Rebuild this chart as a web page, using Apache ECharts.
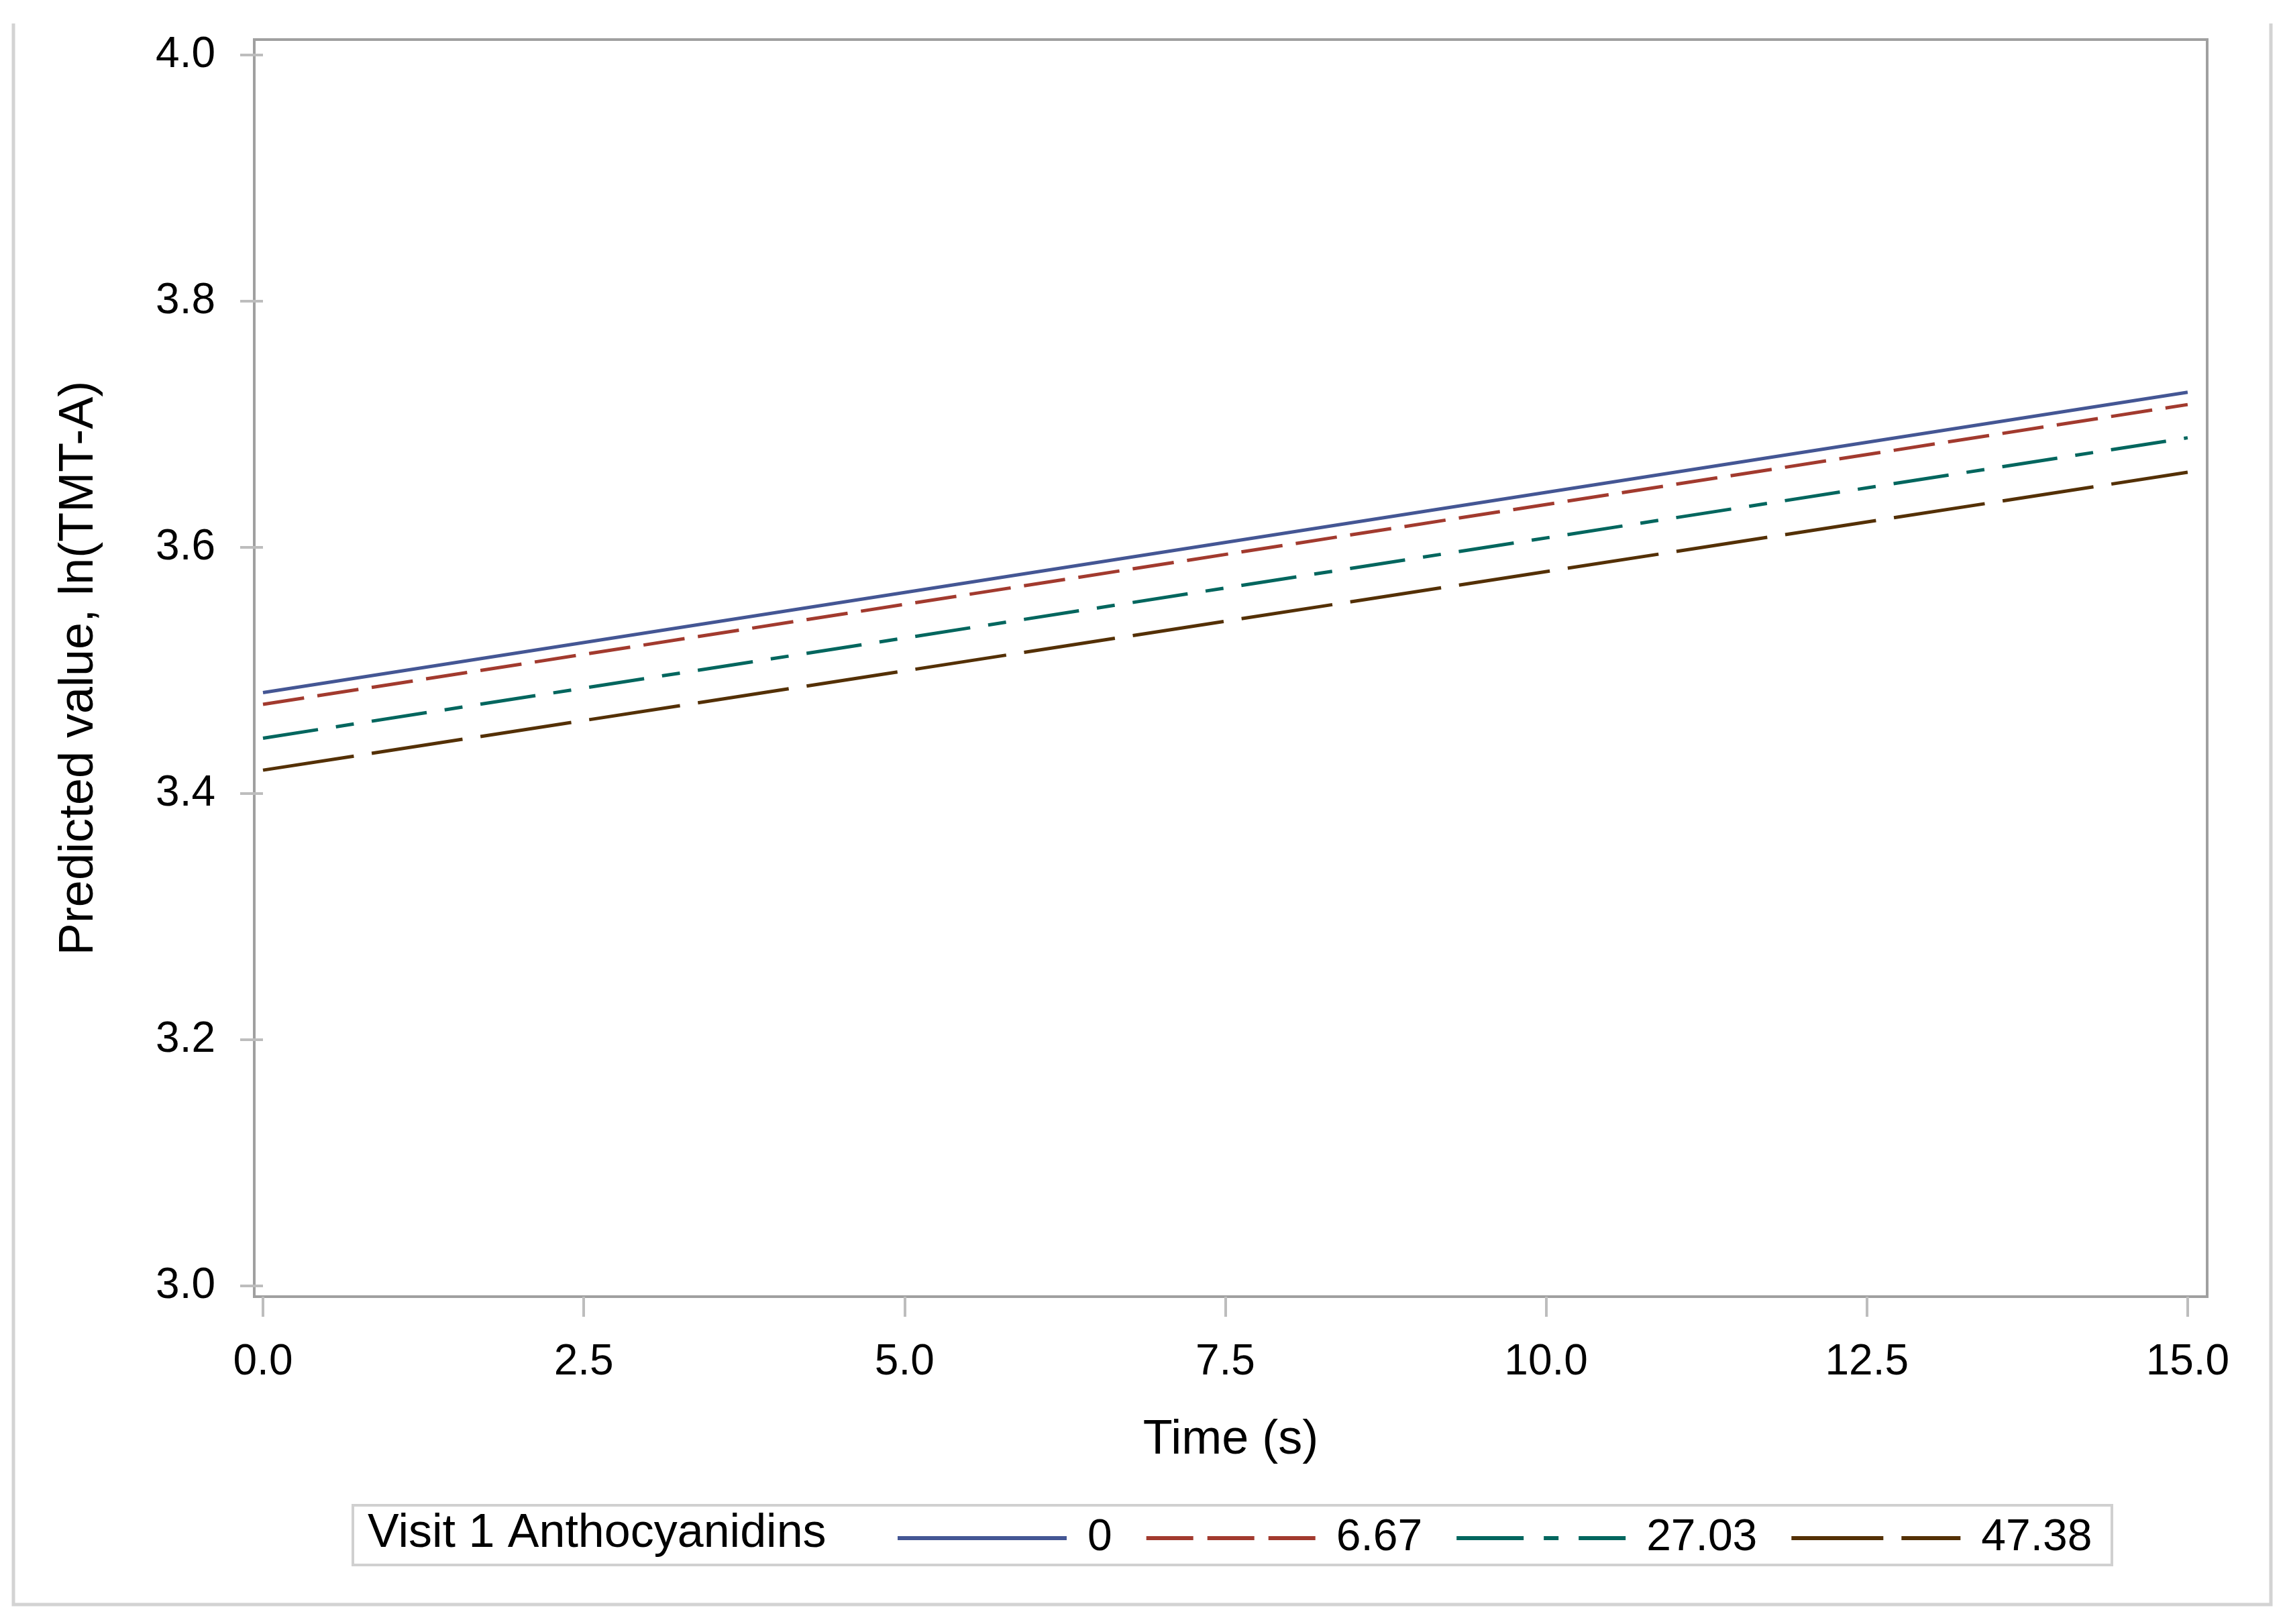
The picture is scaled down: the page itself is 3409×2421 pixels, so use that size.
<!DOCTYPE html>
<html>
<head>
<meta charset="utf-8">
<script src="https://cdn.jsdelivr.net/npm/echarts@6/dist/echarts.min.js"></script>
<style>
html,body{margin:0;padding:0;background:#fff;}
#chart{width:3409px;height:2421px;}
</style>
</head>
<body>
<div id="chart"></div>
<script>
// ---- data ----
const timeValues = [0, 15];
const seriesNames = ['0', '6.67', '27.03', '47.38'];
const values0 = [3.482, 3.726];
const values667 = [3.4725, 3.716];
const values2703 = [3.445, 3.689];
const values4738 = [3.419, 3.661];
const xTickValues = [0, 2.5, 5, 7.5, 10, 12.5, 15];
const yTickValues = [3.0, 3.2, 3.4, 3.6, 3.8, 4.0];
const legendTitle = 'Visit 1 Anthocyanidins';
const xTitle = 'Time (s)';
const yTitle = 'Predicted value, ln(TMT-A)';

const FONT = "'Liberation Sans', Arial, sans-serif";
const colors = ['#445694', '#A23A2E', '#01665E', '#543005'];
const dashes = ['solid', [62, 20], [83, 27, 27, 27], [137, 27]];
const legendDashes = ['solid', [70, 21], [100, 30, 22, 30], [137, 27]];
const allValues = [values0, values667, values2703, values4738];

const series = allValues.map((vals, i) => ({
  name: seriesNames[i],
  type: 'line',
  symbol: 'none',
  showSymbol: false,
  silent: true,
  animation: false,
  data: timeValues.map((t, j) => [t, vals[j]]),
  lineStyle: { color: colors[i], width: 5, type: dashes[i] },
  itemStyle: { color: colors[i] }
}));

const chart = echarts.init(document.getElementById('chart'), null, { renderer: 'canvas' });
chart.setOption({
  backgroundColor: '#ffffff',
  animation: false,
  grid: {
    left: 379, top: 59, right: 119, bottom: 488,
    show: true, borderColor: '#a0a0a0', borderWidth: 4, backgroundColor: 'transparent'
  },
  xAxis: {
    type: 'value',
    min: -0.068, max: 15.152,
    name: xTitle,
    nameLocation: 'middle',
    nameGap: 178,
    nameTextStyle: { fontFamily: FONT, fontSize: 72, color: '#000' },
    axisLine: { show: false },
    splitLine: { show: false },
    axisTick: { show: true, inside: false, length: 30, customValues: xTickValues,
      lineStyle: { color: '#bdbdbd', width: 4 } },
    axisLabel: { show: true, customValues: xTickValues, margin: 66,
      fontFamily: FONT, fontSize: 64, color: '#000',
      formatter: v => Number(v).toFixed(1) }
  },
  yAxis: {
    type: 'value',
    min: 2.9913, max: 4.0125,
    name: yTitle,
    nameLocation: 'middle',
    nameRotate: 90,
    nameGap: 225,
    nameTextStyle: { fontFamily: FONT, fontSize: 72, color: '#000' },
    axisLine: { show: false },
    splitLine: { show: false },
    axisTick: { show: true, inside: false, length: 34, customValues: yTickValues,
      lineStyle: { color: '#bdbdbd', width: 4 } },
    axisLabel: { show: true, customValues: yTickValues, margin: 58,
      fontFamily: FONT, fontSize: 64, color: '#000',
      formatter: v => Number(v).toFixed(1) }
  },
  legend: {
    show: true,
    left: 1335,
    top: 2253,
    orient: 'horizontal',
    padding: 0,
    itemWidth: 252,
    itemHeight: 20,
    itemGap: 48,
    selectedMode: false,
    data: seriesNames.map((n, i) => ({ name: n, lineStyle: { width: 6, type: legendDashes[i] } })),
    itemStyle: { opacity: 0 },
    lineStyle: { width: 6 },
    textStyle: { fontFamily: FONT, fontSize: 66, color: '#000', lineHeight: 70,
      padding: [0, 0, 10, 26] }
  },
  graphic: [
    { type: 'polyline', silent: true, z: -1,
      shape: { points: [[20, 35], [20, 2392], [3385, 2392], [3385, 35]] },
      style: { fill: 'none', stroke: '#d3d3d3', lineWidth: 5 } },
    { type: 'rect', silent: true,
      shape: { x: 526, y: 2244, width: 2622, height: 89 },
      style: { fill: 'none', stroke: '#d0d0d0', lineWidth: 4 } },
    { type: 'text', silent: true, x: 548, y: 2287,
      style: { text: legendTitle, fontFamily: FONT, fontSize: 70, fill: '#000',
        align: 'left', verticalAlign: 'middle' } }
  ],
  series: series
});
</script>
</body>
</html>
